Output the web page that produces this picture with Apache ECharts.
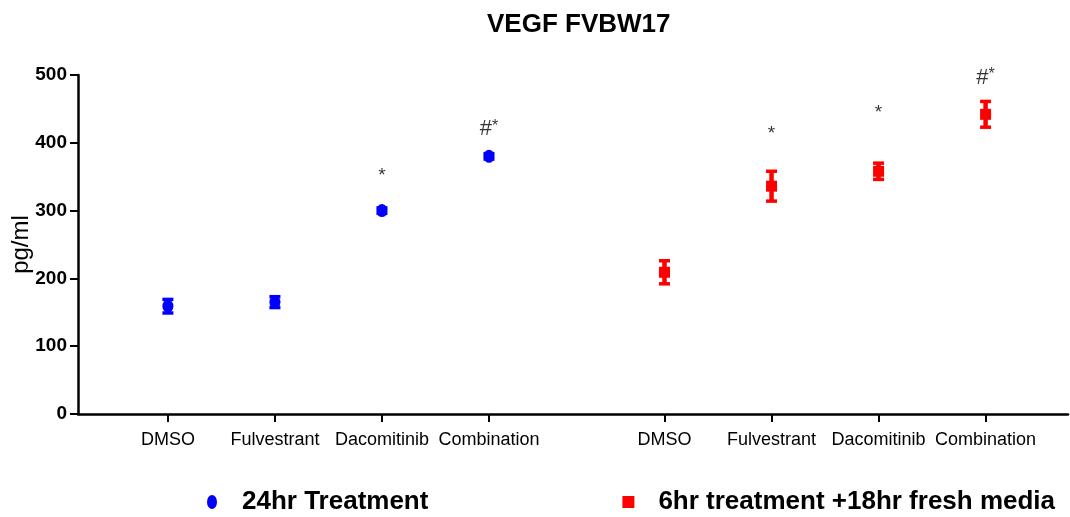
<!DOCTYPE html>
<html>
<head>
<meta charset="utf-8">
<script src="https://cdn.jsdelivr.net/npm/echarts@6/dist/echarts.min.js"></script>
<style>
html,body{margin:0;padding:0;background:#fff;}
#chart{width:1070px;height:517px;}
</style>
</head>
<body>
<div id="chart"></div>
<script>
// ---- data ----
const categories = ['DMSO', 'Fulvestrant', 'Dacomitinib', 'Combination'];
const seriesNames = ['24hr Treatment', '6hr treatment +18hr fresh media'];
const mean24 = [159, 165, 300, 380];
const err24 = [10, 8, 4, 4];
const mean6 = [209, 336, 358, 442];
const err6 = [17, 22, 12, 19];
const sig24 = ['', '', '*', '#*'];
const sigY24 = [null, null, 359, 420];
const sig6 = ['', '*', '*', '#*'];
const sigY6 = [null, 421, 452, 496];
const yTicks = [0, 100, 200, 300, 400, 500];

// ---- layout (not data) ----
const groupStart = [0.84, 5.48];
const xMax = 9.25;
const colors = ['#0000ff', '#ff0000'];
const FONT = "'Liberation Sans', Arial, sans-serif";

const groups = [
  { name: seriesNames[0], mean: mean24, err: err24, sig: sig24, sigY: sigY24 },
  { name: seriesNames[1], mean: mean6, err: err6, sig: sig6, sigY: sigY6 }
];

const tickPos = [];
const tickLab = [];
groups.forEach((g, gi) => categories.forEach((c, i) => { tickPos.push(groupStart[gi] + i); tickLab.push(c); }));

function labelFor(v) {
  let best = 0, bd = Infinity;
  tickPos.forEach((p, i) => { const d = Math.abs(p - v); if (d < bd) { bd = d; best = i; } });
  return tickLab[best];
}

const ellipse = 'path://M5,0A5,7,0,1,1,5,14A5,7,0,1,1,5,0Z';
const square = 'path://M0,0H12V12H0Z';
const symbols = [ellipse, square];
const symbolSizes = [[11, 13], [11, 11]];

const series = [];
groups.forEach((g, gi) => {
  const pts = g.mean.map((m, i) => [groupStart[gi] + i, m, g.err[i]]);
  series.push({
    name: g.name + ' err',
    type: 'custom',
    z: 2,
    silent: true,
    data: pts,
    encode: { x: 0, y: 1 },
    renderItem: function (params, api) {
      const x = api.value(0), m = api.value(1), e = api.value(2);
      const top = api.coord([x, m + e]);
      const bot = api.coord([x, m - e]);
      const hw = 5.5;
      const st = { stroke: colors[gi], lineWidth: 3.5 };
      return {
        type: 'group',
        children: [
          { type: 'line', shape: { x1: top[0], y1: top[1], x2: bot[0], y2: bot[1] }, style: { stroke: colors[gi], lineWidth: 4.5 } },
          { type: 'line', shape: { x1: top[0] - hw, y1: top[1], x2: top[0] + hw, y2: top[1] }, style: st },
          { type: 'line', shape: { x1: bot[0] - hw, y1: bot[1], x2: bot[0] + hw, y2: bot[1] }, style: st }
        ]
      };
    }
  });
  series.push({
    name: g.name,
    type: 'scatter',
    z: 3,
    symbol: symbols[gi],
    symbolSize: symbolSizes[gi],
    symbolKeepAspect: false,
    itemStyle: { color: colors[gi], opacity: 1 },
    data: pts.map(p => [p[0], p[1]])
  });
  series.push({
    name: g.name + ' sig',
    type: 'scatter',
    z: 4,
    silent: true,
    symbolSize: 0,
    data: g.sig.map((s, i) => s ? { value: [groupStart[gi] + i, g.sigY[i]], sig: s } : null).filter(Boolean),
    label: {
      show: true,
      position: 'inside',
      formatter: function (p) {
        const s = p.data.sig;
        if (s === '#*') return '{h|#}{s|*}';
        return '{s2|*}';
      },
      rich: {
        h: { fontSize: 22, fontFamily: FONT, color: '#000', verticalAlign: 'middle' },
        s: { fontSize: 16, fontFamily: FONT, color: '#000', verticalAlign: 'top', padding: [0, 0, 6, 0] },
        s2: { fontSize: 19, fontFamily: FONT, color: '#000', padding: [10, 0, 0, 0] }
      }
    }
  });
});

const chart = echarts.init(document.getElementById('chart'), null, { renderer: 'canvas' });
chart.setOption({
  backgroundColor: '#fff',
  animation: false,
  title: {
    text: 'VEGF FVBW17',
    left: 482,
    top: 7,
    textStyle: { fontFamily: FONT, fontSize: 26, fontWeight: 'bold', color: '#000' }
  },
  legend: {
    left: 202,
    top: 484,
    itemGap: 194,
    itemWidth: 12,
    itemHeight: 14,
    selectedMode: false,
    data: [
      { name: seriesNames[0], icon: ellipse, itemStyle: { color: colors[0] } },
      { name: seriesNames[1], icon: square, itemStyle: { color: colors[1] } }
    ],
    textStyle: { fontFamily: FONT, fontSize: 26, fontWeight: 'bold', color: '#000', padding: [0, 0, 0, 19] }
  },
  grid: { left: 78, right: 2, top: 75, bottom: 103, containLabel: false, outerBoundsMode: 'none' },
  xAxis: {
    type: 'value',
    min: 0,
    max: xMax,
    splitLine: { show: false },
    axisLine: { show: true, onZero: false, lineStyle: { color: '#000', width: 2.5 } },
    axisTick: { show: true, inside: false, length: 8, customValues: tickPos, lineStyle: { color: '#000', width: 2 } },
    axisLabel: {
      customValues: tickPos,
      formatter: labelFor,
      margin: 17,
      fontFamily: FONT,
      fontSize: 18,
      color: '#000'
    }
  },
  yAxis: {
    type: 'value',
    min: yTicks[0],
    max: yTicks[yTicks.length - 1],
    interval: 100,
    name: 'pg/ml',
    nameLocation: 'middle',
    nameGap: 45,
    nameMoveOverlap: false,
    nameTextStyle: { fontFamily: FONT, fontSize: 24, color: '#000' },
    splitLine: { show: false },
    axisLine: { show: true, lineStyle: { color: '#000', width: 2.5 } },
    axisTick: { show: true, inside: false, length: 8, lineStyle: { color: '#000', width: 2 } },
    axisLabel: { margin: 11, fontFamily: FONT, fontSize: 19, fontWeight: 'bold', color: '#000' }
  },
  series: series
});
</script>
</body>
</html>
